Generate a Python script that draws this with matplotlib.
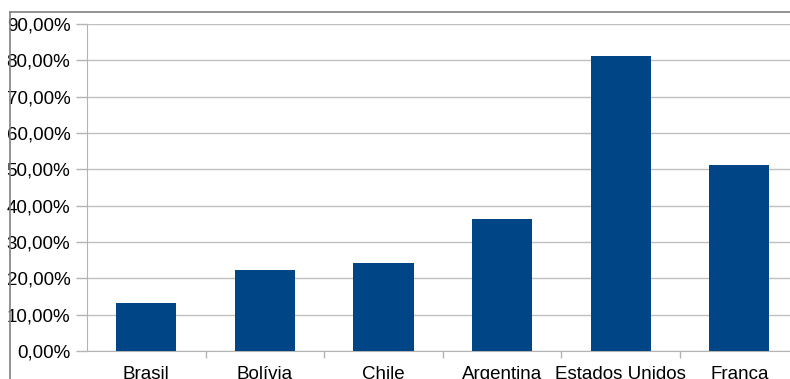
import matplotlib
matplotlib.use("Agg")
import matplotlib.pyplot as plt
from matplotlib.lines import Line2D
from matplotlib.ticker import FuncFormatter, FixedLocator
import numpy as np

categories = ["Brasil", "Bolívia", "Chile", "Argentina", "Estados Unidos", "Franca"]
values = [13.2, 22.3, 24.2, 36.4, 81.3, 51.2]
yticks = [0, 10, 20, 30, 40, 50, 60, 70, 80, 90]

plt.rcParams['font.family'] = ['Liberation Sans', 'DejaVu Sans']

fig = plt.figure(figsize=(7.9, 3.79), dpi=100)
W, H = 790, 379
ax_left, ax_right = 87, 798.6
ax_top, ax_bottom = 24, 351
ax = fig.add_axes([ax_left / W, (H - ax_bottom) / H, (ax_right - ax_left) / W, (ax_bottom - ax_top) / H])

x = np.arange(len(categories))
ax.bar(x, values, width=0.506, color="#004586", zorder=3)

ax.set_xlim(-0.5, len(categories) - 0.5)
ax.set_ylim(0, 90)
ax.set_yticks(yticks)
ax.yaxis.set_major_formatter(FuncFormatter(lambda v, p: f"{v:.2f}".replace(".", ",") + "%"))
ax.grid(axis="y", color="#c0c0c0", linewidth=1, zorder=0)
ax.set_axisbelow(True)

ax.set_xticks(x)
ax.set_xticklabels(categories)
ax.xaxis.set_minor_locator(FixedLocator(np.arange(0.5, len(categories) - 0.5, 1)))
ax.tick_params(axis="x", which="major", length=0, pad=11, labelsize=13.5)
ax.tick_params(axis="x", which="minor", length=5, color="#b3b3b3", width=1)
ax.tick_params(axis="y", length=8, color="#b3b3b3", width=1, pad=4, labelsize=13.5)

for s in ["top", "right"]:
    ax.spines[s].set_visible(False)
ax.spines["left"].set_color("#b3b3b3")
ax.spines["bottom"].set_color("#b3b3b3")

# outer frame
fig.add_artist(Line2D([10 / W, 1], [1 - 12 / H, 1 - 12 / H], color="#808080", linewidth=1.2, transform=fig.transFigure))
fig.add_artist(Line2D([10 / W, 10 / W], [0, 1 - 12 / H], color="#808080", linewidth=1.2, transform=fig.transFigure))

fig.savefig("out.png", dpi=100)
